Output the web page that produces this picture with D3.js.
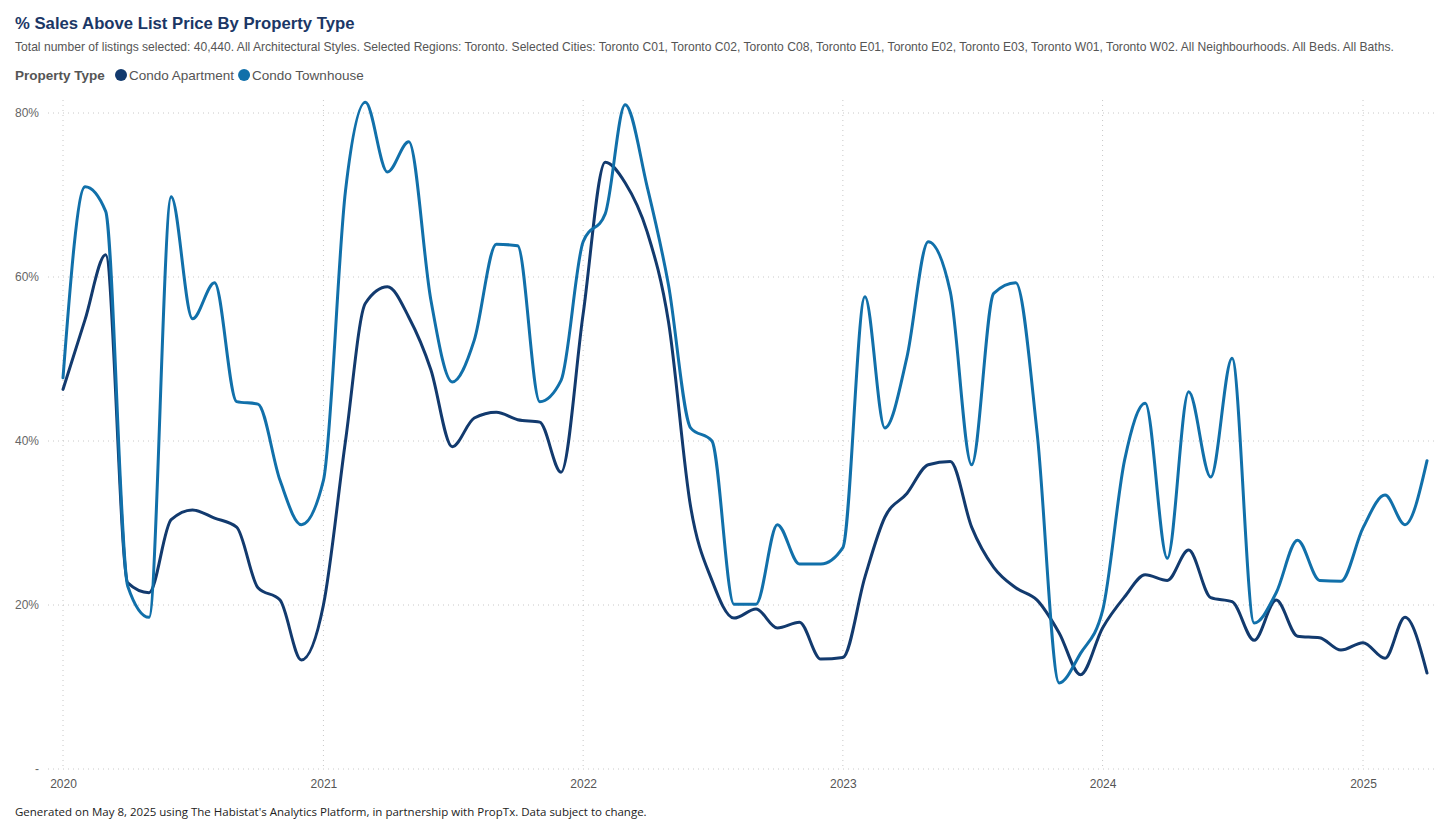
<!DOCTYPE html>
<html>
<head>
<meta charset="utf-8">
<script src="https://cdn.jsdelivr.net/npm/d3@7"></script>
<style>
  body { margin: 0; background: #fff; font-family: "Liberation Sans", Arial, sans-serif; }
  svg { display: block; }
</style>
</head>
<body>
<svg id="chart"></svg>
<script>
const months = [
  "2020-01","2020-02","2020-03","2020-04","2020-05","2020-06","2020-07","2020-08","2020-09","2020-10","2020-11","2020-12",
  "2021-01","2021-02","2021-03","2021-04","2021-05","2021-06","2021-07","2021-08","2021-09","2021-10","2021-11","2021-12",
  "2022-01","2022-02","2022-03","2022-04","2022-05","2022-06","2022-07","2022-08","2022-09","2022-10","2022-11","2022-12",
  "2023-01","2023-02","2023-03","2023-04","2023-05","2023-06","2023-07","2023-08","2023-09","2023-10","2023-11","2023-12",
  "2024-01","2024-02","2024-03","2024-04","2024-05","2024-06","2024-07","2024-08","2024-09","2024-10","2024-11","2024-12",
  "2025-01","2025-02","2025-03","2025-04"
];

// % of sales above list price
const condoApartment = [
  46.3, 54.8, 62.7, 22.7, 21.5, 30.4, 31.6, 30.6, 29.5, 22.1, 20.6, 13.3,
  20.0, 40.0, 56.8, 58.8, 55.1, 48.7, 39.3, 42.8, 43.5, 42.6, 42.3, 36.2,
  55.5, 74.0, 71.5, 65.5, 54.5, 32.0, 23.0, 18.4, 19.5, 17.2, 17.9, 13.4,
  13.6, 23.4, 30.7, 33.6, 37.1, 37.5, 29.5, 24.6, 22.1, 20.6, 16.6, 11.5,
  17.2, 21.0, 23.7, 23.0, 26.7, 20.9, 20.4, 15.7, 20.6, 16.2, 16.0, 14.5,
  15.4, 13.5, 18.5, 11.7
];
const condoTownhouse = [
  47.7, 71.0, 68.0, 22.3, 18.5, 69.8, 54.9, 59.3, 44.8, 44.5, 35.2, 29.8,
  35.2, 70.5, 81.3, 72.8, 76.5, 57.2, 47.2, 52.3, 64.0, 63.8, 44.8, 47.4,
  64.3, 67.7, 81.0, 71.0, 59.0, 41.6, 40.0, 20.1, 20.1, 29.8, 25.0, 25.0,
  27.0, 57.6, 41.6, 50.2, 64.3, 58.2, 37.1, 58.0, 59.3, 41.0, 10.5, 14.1,
  19.3, 37.7, 44.6, 25.7, 46.0, 35.6, 50.1, 17.8, 21.5, 27.9, 23.0, 22.9,
  29.4, 33.4, 29.8, 37.6
];

const seriesNames = ["Condo Apartment", "Condo Townhouse"];
const seriesColors = ["#123a6e", "#1170aa"];
const yTicks = [0, 20, 40, 60, 80];
const xTickYears = ["2020", "2021", "2022", "2023", "2024", "2025"];

const width = 1456, height = 830;
const svg = d3.select("#chart").attr("width", width).attr("height", height);

const parseMonth = d3.timeParse("%Y-%m");
const dates = months.map(parseMonth);

const x = d3.scaleTime()
  .domain([parseMonth("2020-01"), parseMonth("2025-01")])
  .range([63, 1363]);

const y = d3.scaleLinear()
  .domain([0, 80])
  .range([769, 113]);

// header
svg.append("text")
  .attr("x", 15).attr("y", 29)
  .attr("font-size", 16.7).attr("font-weight", "bold")
  .attr("fill", "#1b3766")
  .text("% Sales Above List Price By Property Type");

svg.append("text")
  .attr("x", 15).attr("y", 51)
  .attr("font-size", 12.1).attr("fill", "#555")
  .text("Total number of listings selected: 40,440. All Architectural Styles. Selected Regions: Toronto. Selected Cities: Toronto C01, Toronto C02, Toronto C08, Toronto E01, Toronto E02, Toronto E03, Toronto W01, Toronto W02. All Neighbourhoods. All Beds. All Baths.");

// legend
const legend = svg.append("g").attr("transform", "translate(15,80)");
legend.append("text")
  .attr("font-size", 13.5).attr("font-weight", "bold").attr("fill", "#555")
  .text("Property Type");
let lx = 100;
seriesNames.forEach((name, i) => {
  legend.append("circle").attr("cx", lx + 6).attr("cy", -5).attr("r", 6).attr("fill", seriesColors[i]);
  const t = legend.append("text").attr("x", lx + 14).attr("font-size", 13.5).attr("fill", "#555").text(name);
  lx += 14 + t.node().getComputedTextLength() + 4;
});

// gridlines
svg.append("g")
  .selectAll("line")
  .data(yTicks)
  .join("line")
  .attr("x1", 48).attr("x2", 1436)
  .attr("y1", d => y(d)).attr("y2", d => y(d))
  .attr("stroke", "#c8c8c8").attr("stroke-dasharray", "1,4");

svg.append("g")
  .selectAll("line")
  .data(xTickYears)
  .join("line")
  .attr("x1", d => x(parseMonth(d + "-01"))).attr("x2", d => x(parseMonth(d + "-01")))
  .attr("y1", 100).attr("y2", 769)
  .attr("stroke", "#c8c8c8").attr("stroke-dasharray", "1,4");

// Y axis
const yAxis = svg.append("g")
  .attr("transform", "translate(39,0)")
  .call(d3.axisLeft(y).tickValues(yTicks).tickSize(0).tickPadding(0)
    .tickFormat(d => d === 0 ? "-" : d + "%"));
yAxis.select(".domain").remove();
yAxis.selectAll("text").attr("font-size", 12).attr("fill", "#666")
  .attr("font-family", "\"Liberation Sans\", Arial, sans-serif");

// X axis
const xAxis = svg.append("g")
  .attr("transform", "translate(0,775)")
  .call(d3.axisBottom(x).tickValues(xTickYears.map(d => parseMonth(d + "-01"))).tickSize(0).tickPadding(4)
    .tickFormat(d3.timeFormat("%Y")));
xAxis.select(".domain").remove();
xAxis.selectAll("text").attr("font-size", 12).attr("fill", "#555")
  .attr("font-family", "\"Liberation Sans\", Arial, sans-serif");

// lines
const line = d3.line()
  .x((d, i) => x(dates[i]))
  .y(d => y(d))
  .curve(d3.curveMonotoneX);

[condoApartment, condoTownhouse].forEach((vals, i) => {
  svg.append("path")
    .datum(vals)
    .attr("fill", "none")
    .attr("stroke", seriesColors[i])
    .attr("stroke-width", 3)
    .attr("stroke-linejoin", "round")
    .attr("stroke-linecap", "round")
    .attr("d", line);
});

// footer
svg.append("text")
  .attr("x", 15).attr("y", 816)
  .attr("font-size", 11.5).attr("fill", "#222")
  .attr("font-family", "\"Open Sans\", sans-serif")
  .text("Generated on May 8, 2025 using The Habistat's Analytics Platform, in partnership with PropTx. Data subject to change.");
</script>
</body>
</html>
